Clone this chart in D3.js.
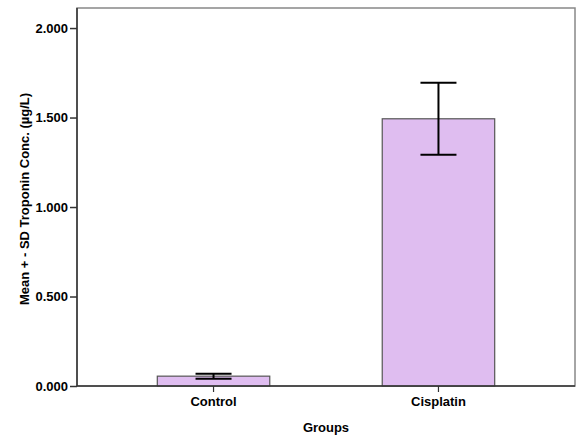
<!DOCTYPE html>
<html>
<head>
<meta charset="utf-8">
<script src="https://cdn.jsdelivr.net/npm/d3@7"></script>
<style>
  body { margin: 0; background: #fff; }
  text { font-family: Arial, "Liberation Sans", sans-serif; font-weight: bold; fill: #000; }
</style>
</head>
<body>
<div id="chart"></div>
<script>
var groups = ["Control", "Cisplatin"];
var means = [0.055, 1.493];
var sds = [0.014, 0.201];
var y_ticks = [0, 0.5, 1.0, 1.5, 2.0];

var fill_color_bar = '#dfbdf0';
var stroke_color_bar = '#555';
var stroke_color_frame = '#888';
var stroke_color_axis = '#333';

var width = 580, height = 441;
var margin = {top: 8, right: 5, bottom: 55, left: 77};

var svg = d3.select("#chart").append("svg")
    .attr("width", width)
    .attr("height", height);

svg.append("rect")
    .attr("width", width).attr("height", height)
    .attr("fill", "#fff");

var x = d3.scaleBand()
    .domain(groups)
    .range([margin.left, width - margin.right])
    .paddingInner(0.5)
    .paddingOuter(0.357);

var y = d3.scaleLinear()
    .domain([0, 2.112])
    .range([height - margin.bottom, margin.top]);

// plot frame
svg.append("rect")
    .attr("x", margin.left)
    .attr("y", margin.top)
    .attr("width", width - margin.right - margin.left)
    .attr("height", height - margin.bottom - margin.top)
    .attr("fill", "none")
    .attr("stroke", stroke_color_frame)
    .attr("stroke-width", 1.5);

var data = groups.map(function(g, i) { return {group: g, mean: means[i], sd: sds[i]}; });

// bars
svg.append("g").selectAll("rect")
    .data(data)
    .enter().append("rect")
    .attr("x", function(d) { return x(d.group); })
    .attr("y", function(d) { return y(d.mean); })
    .attr("width", x.bandwidth())
    .attr("height", function(d) { return y(0) - y(d.mean); })
    .attr("fill", fill_color_bar)
    .attr("stroke", stroke_color_bar)
    .attr("stroke-width", 1.2);

// error bars
var cap = 18;
var err = svg.append("g").selectAll("g")
    .data(data)
    .enter().append("g")
    .attr("stroke", "#000")
    .attr("stroke-width", 2);

err.append("line")
    .attr("x1", function(d) { return x(d.group) + x.bandwidth() / 2; })
    .attr("x2", function(d) { return x(d.group) + x.bandwidth() / 2; })
    .attr("y1", function(d) { return y(d.mean + d.sd); })
    .attr("y2", function(d) { return y(d.mean - d.sd); });

err.append("line")
    .attr("x1", function(d) { return x(d.group) + x.bandwidth() / 2 - cap; })
    .attr("x2", function(d) { return x(d.group) + x.bandwidth() / 2 + cap; })
    .attr("y1", function(d) { return y(d.mean + d.sd); })
    .attr("y2", function(d) { return y(d.mean + d.sd); });

err.append("line")
    .attr("x1", function(d) { return x(d.group) + x.bandwidth() / 2 - cap; })
    .attr("x2", function(d) { return x(d.group) + x.bandwidth() / 2 + cap; })
    .attr("y1", function(d) { return y(d.mean - d.sd); })
    .attr("y2", function(d) { return y(d.mean - d.sd); });

// y axis
var yAxis = svg.append("g")
    .attr("transform", "translate(" + margin.left + ",0)")
    .call(d3.axisLeft(y).tickValues(y_ticks).tickFormat(d3.format(".3f")).tickSize(7).tickPadding(2));
yAxis.select(".domain").attr("stroke", stroke_color_axis).attr("stroke-width", 1.5)
    .attr("d", "M0," + y.range()[0] + "V" + y.range()[1]);
yAxis.selectAll(".tick line").attr("stroke", stroke_color_axis).attr("stroke-width", 1.5);
yAxis.selectAll(".tick text").style("font-size", "13px").attr("fill", "#000");

// x axis
var xAxis = svg.append("g")
    .attr("transform", "translate(0," + (height - margin.bottom) + ")")
    .call(d3.axisBottom(x).tickSize(6).tickPadding(5));
xAxis.select(".domain").attr("stroke", stroke_color_axis).attr("stroke-width", 1.5)
    .attr("d", "M" + x.range()[0] + ",0H" + x.range()[1]);
xAxis.selectAll(".tick line").attr("stroke", stroke_color_axis).attr("stroke-width", 1.2);
xAxis.selectAll(".tick text").style("font-size", "13px").attr("fill", "#000");

// axis titles
svg.append("text")
    .attr("x", (margin.left + width - margin.right) / 2)
    .attr("y", 432)
    .attr("text-anchor", "middle")
    .style("font-size", "13px")
    .text("Groups");

svg.append("text")
    .attr("transform", "translate(29,199) rotate(-90)")
    .attr("text-anchor", "middle")
    .style("font-size", "13px")
    .text("Mean + - SD Troponin Conc. (µg/L)");
</script>
</body>
</html>
